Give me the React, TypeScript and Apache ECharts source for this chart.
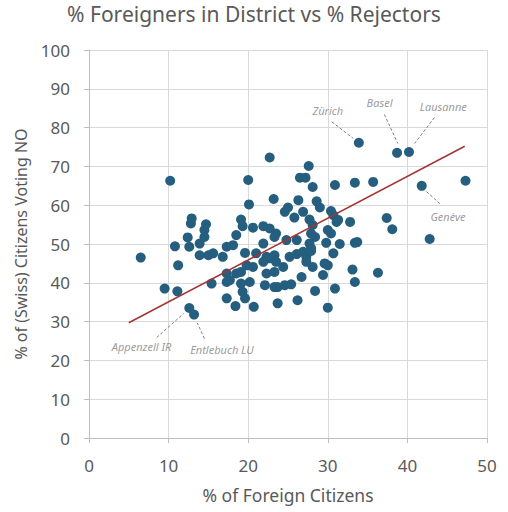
import React, { useEffect, useRef } from "react";
import * as echarts from "echarts";

const titleText = "% Foreigners in District vs % Rejectors";
const xAxisName = "% of Foreign Citizens";
const yAxisName = "% of (Swiss) Citizens Voting NO";

const foreignPct: number[] = [
  22.7, 10.2, 20.0, 23.2, 20.1, 24.6, 25.0, 12.9, 12.8, 14.7, 19.1, 19.3, 20.6, 21.9, 22.7, 23.5,
  14.5, 14.5, 12.4, 13.9, 12.6, 10.8, 18.5, 21.9, 23.3, 24.8, 17.3, 18.1, 6.5, 13.9, 15.0, 15.6,
  16.8, 19.6, 21.0, 22.3, 23.3, 11.2, 19.8, 20.6, 21.9, 22.7, 23.5, 24.4, 23.3, 22.3, 17.3, 18.5,
  19.1, 17.7, 17.3, 19.1, 20.2, 15.4, 9.5, 11.1, 19.3, 22.1, 23.3, 23.7, 24.6, 17.3, 19.6, 18.4,
  20.7, 23.7, 12.6, 13.2, 33.9, 38.7, 40.2, 27.6, 26.5, 27.2, 28.1, 30.9, 33.4, 35.7, 41.8, 47.3,
  26.3, 28.6, 29.0, 26.9, 25.8, 27.7, 28.1, 30.4, 30.7, 31.3, 31.1, 32.8, 37.4, 38.1, 42.8, 26.1,
  27.9, 28.4, 30.0, 30.4, 29.8, 31.5, 33.4, 33.7, 27.7, 27.9, 25.2, 26.1, 26.9, 27.3, 27.9, 30.7,
  27.3, 28.1, 29.6, 30.0, 29.4, 26.7, 33.1, 36.3, 33.4, 30.9, 28.4, 25.4, 26.2, 30.0,
];
const votingNoPct: number[] = [
  72.3, 66.3, 66.5, 61.6, 60.2, 58.3, 59.4, 56.6, 55.3, 55.1, 56.3, 54.6, 54.2, 54.6, 54.0, 52.7,
  53.6, 51.8, 51.7, 50.1, 49.3, 49.4, 52.3, 50.1, 51.8, 51.0, 49.3, 49.7, 46.5, 47.1, 47.1, 47.6,
  46.7, 47.7, 47.6, 46.7, 47.1, 44.5, 44.5, 44.1, 45.4, 46.3, 45.4, 44.1, 42.8, 42.4, 42.4, 42.4,
  42.8, 40.7, 40.2, 39.8, 40.2, 39.8, 38.5, 37.8, 37.7, 39.4, 38.9, 38.9, 39.4, 36.0, 36.0, 34.0,
  33.8, 34.7, 33.5, 31.8, 76.1, 73.5, 73.7, 70.1, 67.1, 67.1, 64.7, 65.2, 65.8, 66.0, 65.0, 66.3,
  61.3, 61.0, 59.4, 58.3, 56.8, 56.3, 54.9, 58.5, 57.4, 56.2, 55.7, 55.7, 56.7, 53.8, 51.3, 51.0,
  52.7, 51.8, 53.6, 52.7, 50.3, 50.0, 50.3, 50.5, 50.1, 48.9, 46.7, 47.4, 48.0, 46.7, 48.2, 47.6,
  45.4, 44.1, 45.0, 44.5, 42.0, 41.5, 43.4, 42.6, 40.2, 38.5, 37.9, 39.6, 35.5, 33.6,
];

const trendX: number[] = [5.0, 47.2];
const trendY: number[] = [29.7, 75.2];

const annotationNames: string[] = ["Zürich", "Basel", "Lausanne", "Genève", "Appenzell IR", "Entlebuch LU"];
const annotationLabelX: number[] = [30.0, 36.5, 44.5, 45.1, 6.6, 16.7];
const annotationLabelY: number[] = [84.3, 86.4, 85.4, 57.2, 23.7, 22.8];
const leaderFromX: number[] = [30.5, 37.1, 43.4, 42.4, 8.5, 14.5];
const leaderFromY: number[] = [81.5, 83.4, 82.6, 63.5, 25.9, 25.6];
const leaderToX: number[] = [33.2, 38.8, 40.9, 44.3, 11.9, 13.6];
const leaderToY: number[] = [77.2, 75.9, 75.9, 60.0, 32.1, 29.7];

const xTicks = { min: 0, max: 50, interval: 10 };
const yTicks = { min: 0, max: 100, interval: 10 };

const FONT = "Noto Sans";
const TEXT = "#595959";

export default function App() {
  const ref = useRef<HTMLDivElement>(null);
  useEffect(() => {
    if (!ref.current) return;
    document.body.style.margin = "0";
    const chart = echarts.init(ref.current, undefined, { renderer: "svg" });
    const points = foreignPct.map((x, i) => [x, votingNoPct[i]]);
    const trend = trendX.map((x, i) => [x, trendY[i]]);
    const annLabels = annotationNames.map((n, i) => ({
      name: n,
      value: [annotationLabelX[i], annotationLabelY[i]],
    }));
    const leaders = annotationNames.map((n, i) => ({
      coords: [
        [leaderFromX[i], leaderFromY[i]],
        [leaderToX[i], leaderToY[i]],
      ],
    }));
    chart.setOption({
      animation: false,
      backgroundColor: "#ffffff",
      textStyle: { fontFamily: FONT },
      title: {
        text: titleText,
        left: "center",
        top: 2,
        padding: [0, 0, 0, 0],
        textStyle: { fontFamily: FONT, fontSize: 21, fontWeight: "normal", color: TEXT, lineHeight: 24 },
      },
      grid: { left: 89, right: 21, top: 50, bottom: 74, containLabel: false },
      xAxis: {
        type: "value",
        min: xTicks.min,
        max: xTicks.max,
        interval: xTicks.interval,
        name: xAxisName,
        nameLocation: "middle",
        nameGap: 48,
        nameTextStyle: { fontFamily: FONT, fontSize: 17.5, color: TEXT },
        axisLine: { show: true, lineStyle: { color: "#bfbfbf", width: 1 } },
        axisTick: { show: true, length: 5, lineStyle: { color: "#bfbfbf" } },
        axisLabel: { fontFamily: FONT, fontSize: 17, color: TEXT, margin: 19 },
        splitLine: { show: true, lineStyle: { color: "#d9d9d9", width: 1 } },
      },
      yAxis: {
        type: "value",
        min: yTicks.min,
        max: yTicks.max,
        interval: yTicks.interval,
        name: yAxisName,
        nameLocation: "middle",
        nameGap: 60,
        nameTextStyle: { fontFamily: FONT, fontSize: 16, color: TEXT },
        axisLine: { show: true, lineStyle: { color: "#bfbfbf", width: 1 } },
        axisTick: { show: true, length: 5, lineStyle: { color: "#bfbfbf" } },
        axisLabel: { fontFamily: FONT, fontSize: 17, color: TEXT, margin: 19 },
        splitLine: { show: true, lineStyle: { color: "#d9d9d9", width: 1 } },
      },
      series: [
        {
          type: "scatter",
          name: "Districts",
          data: points,
          symbolSize: 10,
          itemStyle: { color: "#255e7e", opacity: 1 },
          z: 3,
        },
        {
          type: "line",
          name: "Trend",
          data: trend,
          symbol: "none",
          lineStyle: { color: "#a33434", width: 1.5 },
          z: 4,
        },
        {
          type: "lines",
          name: "Leaders",
          coordinateSystem: "cartesian2d",
          data: leaders,
          symbol: "none",
          lineStyle: { color: "#808080", width: 1, type: [3, 2], opacity: 1 },
          z: 2,
        },
        {
          type: "scatter",
          name: "Annotations",
          data: annLabels,
          symbolSize: 0,
          silent: true,
          label: {
            show: true,
            position: "inside",
            formatter: "{b}",
            fontFamily: FONT,
            fontSize: 11,
            fontStyle: "italic",
            color: "#808080",
          },
          z: 5,
        },
      ],
    });
    return () => chart.dispose();
  }, []);
  return <div ref={ref} style={{ width: 508, height: 512 }} />;
}
